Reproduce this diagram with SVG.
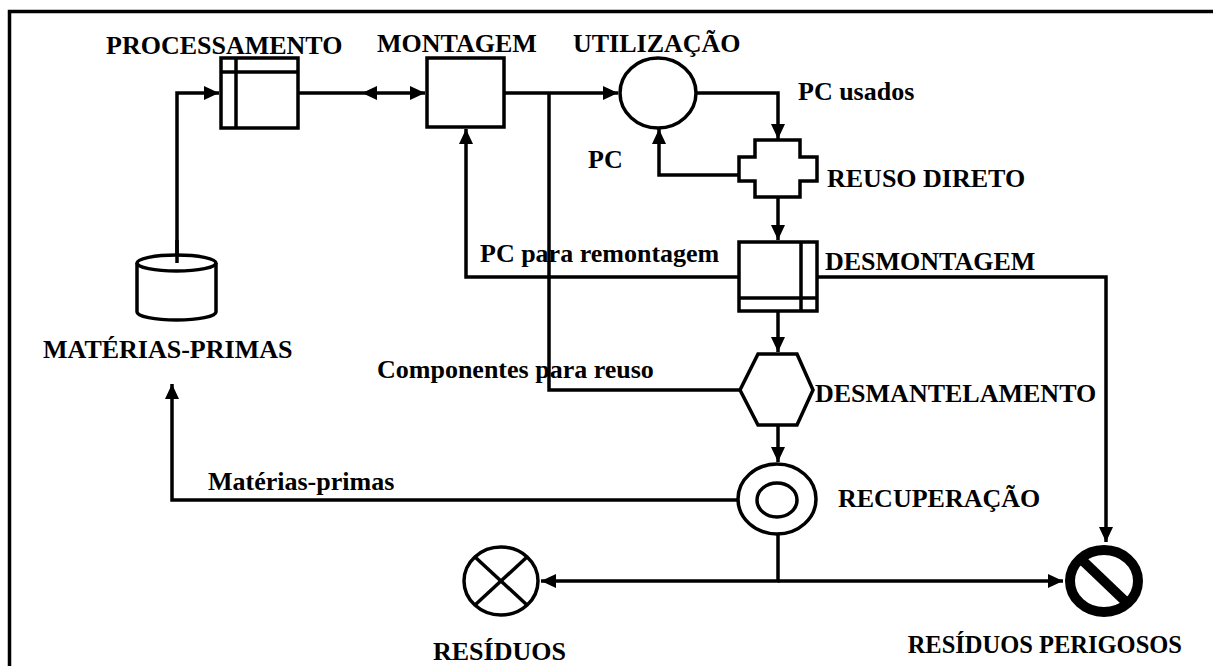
<svg xmlns="http://www.w3.org/2000/svg" width="1213" height="666" viewBox="0 0 1213 666">
<style>
.t{font-family:"Liberation Serif","Times New Roman",serif;font-weight:bold;font-size:26px;fill:#000}
.s{fill:#fff;stroke:#000;stroke-width:3.5}
.c{fill:none;stroke:#000;stroke-width:3.5}
</style>
<defs>
<marker id="ah" markerUnits="userSpaceOnUse" markerWidth="16" markerHeight="15" refX="15" refY="7" orient="auto">
<path d="M0,0 L15,7 L0,14 z" fill="#000"/>
</marker>
</defs>
<rect width="1213" height="666" fill="#fff"/>
<path d="M9.5,668 V11.5 H1215" fill="none" stroke="#000" stroke-width="3.5"/>

<g id="connectors">
<path class="c" d="M177,263 V93 H219" marker-end="url(#ah)"/>
<path class="c" d="M298,93 H425" marker-end="url(#ah)"/>
<polygon points="362,93 377,86 377,100" fill="#000"/>
<path class="c" d="M504,93 H618" marker-end="url(#ah)"/>
<path class="c" d="M697,93 H778 V139" marker-end="url(#ah)"/>
<path class="c" d="M739,175 H659 V129" marker-end="url(#ah)"/>
<path class="c" d="M778,197 V240" marker-end="url(#ah)"/>
<path class="c" d="M739,277 H466 V129" marker-end="url(#ah)"/>
<path class="c" d="M817,277 H1106 V542" marker-end="url(#ah)"/>
<path class="c" d="M778,311 V352" marker-end="url(#ah)"/>
<path class="c" d="M740,390 H549 V93"/>
<path class="c" d="M778,425 V462" marker-end="url(#ah)"/>
<path class="c" d="M738,500 H172 V384" marker-end="url(#ah)"/>
<path class="c" d="M778,534 V581 H541" marker-end="url(#ah)"/>
<path class="c" d="M778,581 H1063" marker-end="url(#ah)"/>
</g>

<g id="materias-primas">
<path class="s" d="M137,263 V312 A39.5,8 0 0 0 216,312 V263"/>
<ellipse class="s" cx="176.5" cy="263" rx="39.5" ry="8"/>
<line x1="177" y1="263" x2="177" y2="240" stroke="#000" stroke-width="3.5"/>
<text class="t" x="43" y="358">MATÉRIAS-PRIMAS</text>
</g>

<g id="processamento">
<rect class="s" x="221" y="58" width="77" height="70"/>
<line x1="236" y1="58" x2="236" y2="128" stroke="#000" stroke-width="3.5"/>
<line x1="221" y1="72" x2="298" y2="72" stroke="#000" stroke-width="3.5"/>
<text class="t" x="106" y="54">PROCESSAMENTO</text>
</g>

<g id="montagem">
<rect class="s" x="427" y="58" width="77" height="69"/>
<text class="t" x="377" y="52">MONTAGEM</text>
</g>

<g id="utilizacao">
<ellipse class="s" cx="658" cy="93" rx="38" ry="35"/>
<text class="t" x="573" y="52">UTILIZAÇÃO</text>
</g>

<g id="reuso-direto">
<path class="s" d="M755,140 H800 V157 H817 V181 H800 V197 H755 V181 H739 V157 H755 Z"/>
<text class="t" x="827" y="187">REUSO DIRETO</text>
</g>

<g id="desmontagem">
<rect class="s" x="739" y="242" width="78" height="69"/>
<line x1="801" y1="242" x2="801" y2="311" stroke="#000" stroke-width="3.5"/>
<line x1="739" y1="298" x2="817" y2="298" stroke="#000" stroke-width="3.5"/>
<text class="t" x="825" y="270">DESMONTAGEM</text>
</g>

<g id="desmantelamento">
<polygon class="s" points="758,354 797,354 813,390 797,425 758,425 740,390"/>
<text class="t" x="815" y="402">DESMANTELAMENTO</text>
</g>

<g id="recuperacao">
<ellipse class="s" cx="777" cy="499" rx="39" ry="35"/>
<ellipse class="s" cx="777" cy="500" rx="20" ry="17"/>
<text class="t" x="838" y="507">RECUPERAÇÃO</text>
</g>

<g id="residuos">
<ellipse class="s" cx="501" cy="581" rx="37" ry="34"/>
<line x1="475" y1="557" x2="527" y2="605" stroke="#000" stroke-width="3.5"/>
<line x1="527" y1="557" x2="475" y2="605" stroke="#000" stroke-width="3.5"/>
<text class="t" x="433" y="660">RESÍDUOS</text>
</g>

<g id="residuos-perigosos">
<ellipse cx="1104" cy="581" rx="34" ry="31" fill="#fff" stroke="#000" stroke-width="10"/>
<line x1="1081" y1="559" x2="1127" y2="603" stroke="#000" stroke-width="10"/>
<text class="t" x="1182" y="653" text-anchor="end" style="font-size:24.5px">RESÍDUOS PERIGOSOS</text>
</g>

<g id="labels">
<text class="t" x="798" y="100">PC usados</text>
<text class="t" x="588" y="168">PC</text>
<text class="t" x="480" y="262">PC para remontagem</text>
<text class="t" x="377" y="378">Componentes para reuso</text>
<text class="t" x="208" y="490">Matérias-primas</text>
</g>
</svg>
